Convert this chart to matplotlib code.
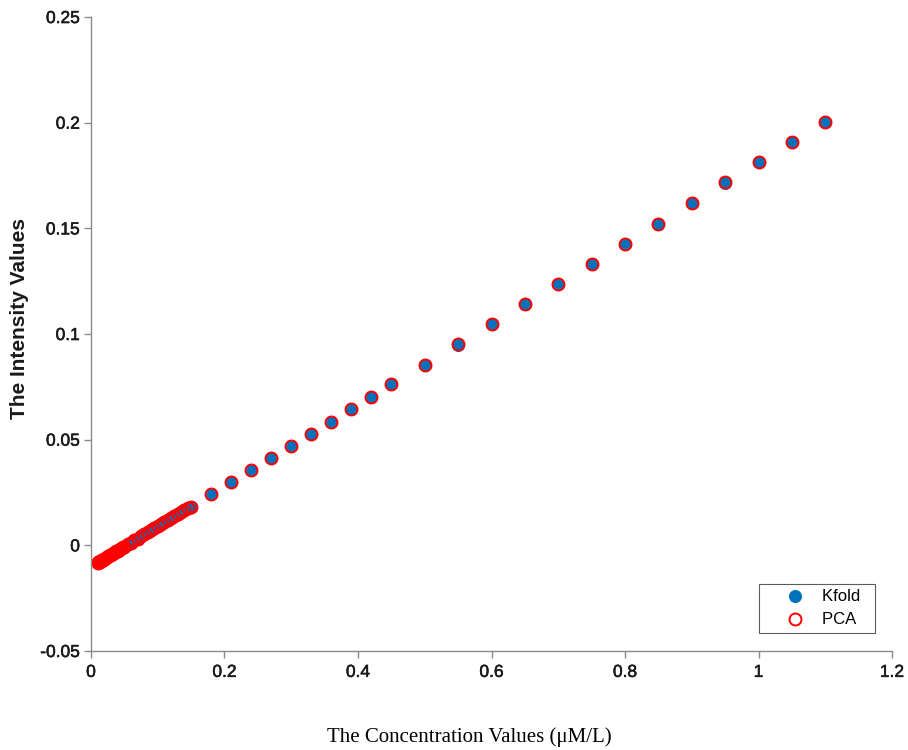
import matplotlib
matplotlib.use("Agg")
import matplotlib.pyplot as plt
import matplotlib.patheffects as pe

# Concentration values (uM/L)
conc = [
    0.010, 0.011, 0.012, 0.013, 0.014, 0.015, 0.016, 0.017, 0.018, 0.019,
    0.020, 0.022, 0.024, 0.026, 0.028, 0.030, 0.032, 0.034, 0.036, 0.038,
    0.040, 0.042, 0.044, 0.046, 0.048, 0.050, 0.055, 0.060, 0.065, 0.070,
    0.075, 0.080, 0.085, 0.090, 0.095, 0.100, 0.105, 0.110, 0.115, 0.120,
    0.125, 0.130, 0.135, 0.140, 0.145, 0.150,
    0.18, 0.21, 0.24, 0.27, 0.30, 0.33, 0.36, 0.39, 0.42, 0.45,
    0.50, 0.55, 0.60, 0.65, 0.70, 0.75, 0.80, 0.85, 0.90, 0.95,
    1.00, 1.05, 1.10,
]

# Predicted intensity, K-fold model
kfold = [
    -0.0083, -0.0081, -0.0079, -0.0077, -0.0075, -0.0073, -0.0071, -0.0069, -0.0068, -0.0066,
    -0.0064, -0.0060, -0.0056, -0.0052, -0.0048, -0.0044, -0.0040, -0.0037, -0.0033, -0.0029,
    -0.0025, -0.0021, -0.0017, -0.0013, -0.0010, -0.0006, 0.0004, 0.0013, 0.0023, 0.0032,
    0.0042, 0.0052, 0.0061, 0.0071, 0.0080, 0.0090, 0.0100, 0.0109, 0.0119, 0.0128,
    0.0138, 0.0148, 0.0157, 0.0167, 0.0176, 0.0183,
    0.0243, 0.0300, 0.0357, 0.0413, 0.0470, 0.0527, 0.0584, 0.0645, 0.0702, 0.0763,
    0.0854, 0.0949, 0.1047, 0.1142, 0.1237, 0.1330, 0.1428, 0.1520, 0.1620, 0.1716,
    0.1814, 0.1908, 0.2003,
]

# Predicted intensity, PCA model
pca = [
    -0.0083, -0.0081, -0.0079, -0.0077, -0.0075, -0.0073, -0.0071, -0.0069, -0.0068, -0.0066,
    -0.0064, -0.0060, -0.0056, -0.0052, -0.0048, -0.0044, -0.0040, -0.0037, -0.0033, -0.0029,
    -0.0025, -0.0021, -0.0017, -0.0013, -0.0010, -0.0006, 0.0004, 0.0013, 0.0023, 0.0032,
    0.0042, 0.0052, 0.0061, 0.0071, 0.0080, 0.0090, 0.0100, 0.0109, 0.0119, 0.0128,
    0.0138, 0.0148, 0.0157, 0.0167, 0.0176, 0.0183,
    0.0244, 0.0301, 0.0358, 0.0415, 0.0471, 0.0528, 0.0585, 0.0645, 0.0703, 0.0763,
    0.0855, 0.0951, 0.1047, 0.1143, 0.1238, 0.1331, 0.1428, 0.1521, 0.1621, 0.1717,
    0.1815, 0.1909, 0.2005,
]

x_ticks = [0, 0.2, 0.4, 0.6, 0.8, 1, 1.2]
x_tick_labels = ["0", "0.2", "0.4", "0.6", "0.8", "1", "1.2"]
y_ticks = [-0.05, 0, 0.05, 0.1, 0.15, 0.2, 0.25]
y_tick_labels = ["-0.05", "0", "0.05", "0.1", "0.15", "0.2", "0.25"]

sans = ["Liberation Sans", "DejaVu Sans"]
serif = ["Liberation Serif", "DejaVu Serif"]
axis_grey = "#8a8a8a"
text_dark = "#1a1a1a"
heavy = [pe.withStroke(linewidth=0.4, foreground=text_dark)]

fig = plt.figure(figsize=(9.08, 7.5), dpi=100)
ax = fig.add_axes([0.1002, 0.132, 0.8822, 0.8453])

ax.plot(conc, kfold, linestyle="none", marker="o", markersize=8.6,
        markerfacecolor="#0072BD", markeredgecolor="#0072BD",
        markeredgewidth=0.8, label="Kfold  ")
ax.plot(conc, pca, linestyle="none", marker="o", markersize=8.6,
        markerfacecolor="none", markeredgecolor="#FF0000",
        markeredgewidth=1.4, label="PCA  ")

ax.set_xlim(0, 1.2)
ax.set_ylim(-0.05, 0.25)
ax.set_xticks(x_ticks)
ax.set_xticklabels(x_tick_labels, fontfamily=sans, fontsize=12.5)
ax.set_yticks(y_ticks)
ax.set_yticklabels(y_tick_labels, fontfamily=sans, fontsize=12.5)
for lbl in ax.get_xticklabels() + ax.get_yticklabels():
    lbl.set_path_effects(heavy)

for side in ("top", "right"):
    ax.spines[side].set_visible(False)
for side in ("left", "bottom"):
    ax.spines[side].set_color(axis_grey)
    ax.spines[side].set_linewidth(1.0)
ax.tick_params(direction="out", length=5, width=1.0, color=axis_grey,
               labelcolor=text_dark)
ax.tick_params(axis="y", pad=3)
ax.tick_params(axis="x", pad=5)

fig.text(0.022, 0.576, "The Intensity Values", fontfamily=sans,
         fontsize=15, fontweight="bold", color=text_dark,
         rotation=90, ha="center", va="center")
fig.text(0.5165, 0.0173, "The Concentration Values (\u03bcM/L)",
         fontfamily=serif, fontsize=15, color="black",
         ha="center", va="center")

leg = ax.legend(loc="lower right", bbox_to_anchor=(0.979, 0.028),
                prop={"family": sans, "size": 12}, fancybox=False,
                frameon=True, borderpad=0.35, handletextpad=-0.17,
                handlelength=3.6, labelspacing=0.48, borderaxespad=0)
leg.get_frame().set_edgecolor("#333333")
leg.get_frame().set_linewidth(0.8)

fig.savefig("out.png", dpi=100, facecolor="white")
